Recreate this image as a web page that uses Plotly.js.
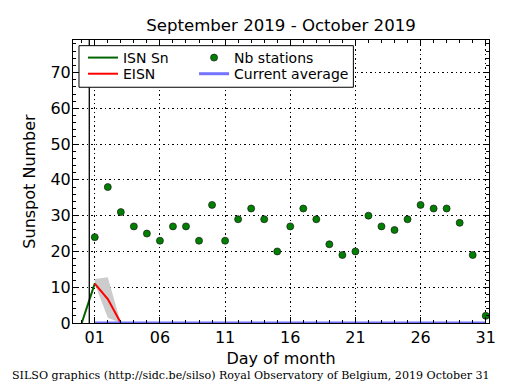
<!DOCTYPE html>
<html><head><meta charset="utf-8">
<script src="https://cdn.plot.ly/plotly-3.0.1.min.js"></script>
<style>html,body{margin:0;padding:0;background:#fff}#chart{width:515px;height:390px}</style>
</head><body><div id="chart"></div>
<script>
// ---- data ----
const days = [1,2,3,4,5,6,7,8,9,10,11,12,13,14,15,16,17,18,19,20,21,22,23,24,25,26,27,28,29,30,31];
const nbStations = [24,38,31,27,25,23,27,27,23,33,23,29,32,29,20,27,32,29,22,19,20,30,27,26,29,33,32,32,28,19,2];
const isnDays = [0, 1];
const isnValues = [0, 11];
const eisnDays = [1, 2, 3];
const eisnValues = [11, 6.7, 0];
const bandDays = [1, 2, 3];
const bandHigh = [12.3, 12.8, 0];
const bandLow = [11, 1.5, 0];
const avgDays = [1, 31];
const avgValues = [0, 0];
const xTickVals = [1, 6, 11, 16, 21, 26, 31];
const xTickText = ['01', '06', '11', '16', '21', '26', '31'];
const markerDay = 0.58;

const F = 'DejaVu Sans, sans-serif';

const traces = [
  {x: bandDays.concat(bandDays.slice().reverse()), y: bandHigh.concat(bandLow.slice().reverse()),
   mode: 'lines', fill: 'toself', fillcolor: '#cccccc', line: {width: 0, color: '#cccccc'},
   showlegend: false, hoverinfo: 'skip'},
  {x: isnDays, y: isnValues, mode: 'lines', name: 'ISN Sn', line: {color: '#006400', width: 2}, legend: 'legend'},
  {x: eisnDays, y: eisnValues, mode: 'lines', name: 'EISN', line: {color: '#ff0000', width: 2}, legend: 'legend2'},
  {x: avgDays, y: avgValues, mode: 'lines', name: 'Current average', line: {color: 'rgba(90,90,255,0.85)', width: 3}, legend: 'legend4'},
  {x: days, y: nbStations, mode: 'markers', name: 'Nb stations',
   marker: {color: '#008000', size: 7, line: {color: '#1a1a1a', width: 0.7}}, legend: 'legend3'}
];

const axisCommon = {
  ticks: 'inside', ticklen: 6, tickwidth: 1, tickcolor: '#000',
  mirror: 'allticks', showline: true, linecolor: '#000', linewidth: 1,
  showgrid: true, gridcolor: '#000', gridwidth: 1, griddash: '1.5px,3px',
  zeroline: false, tickfont: {family: F, size: 16, color: '#000'}
};

const legendBase = {bgcolor: 'rgba(0,0,0,0)', borderwidth: 0, font: {family: F, size: 14, color: '#000'},
  xanchor: 'left', yanchor: 'top', xref: 'paper', yref: 'paper'};

const layout = {
  width: 515, height: 390,
  margin: {l: 73, r: 26, t: 40, b: 67},
  paper_bgcolor: '#fff', plot_bgcolor: '#fff',
  font: {family: F, color: '#000'},
  title: {text: 'September 2019 - October 2019', font: {family: F, size: 16.6, color: '#000', weight: 'normal'},
          x: 0.5, xref: 'paper', xanchor: 'center', y: 0.936, yref: 'container', yanchor: 'middle'},
  xaxis: Object.assign({}, axisCommon, {
    range: [-0.67, 31.25], tickmode: 'array', tickvals: xTickVals, ticktext: xTickText,
    minor: {tickmode: 'linear', tick0: 0, dtick: 1, ticks: 'inside', ticklen: 3, tickcolor: '#000', showgrid: false},
    title: {text: 'Day of month', font: {family: F, size: 16, color: '#000'}, standoff: 6}
  }),
  yaxis: Object.assign({}, axisCommon, {
    range: [0, 79.1], tickmode: 'linear', tick0: 0, dtick: 10, ticklabelstandoff: -2,
    minor: {tickmode: 'linear', tick0: 0, dtick: 2, ticks: 'inside', ticklen: 3, tickcolor: '#000', showgrid: false},
    title: {text: 'Sunspot Number', font: {family: F, size: 16, color: '#000'}, standoff: 10}
  }),
  shapes: [
    {type: 'line', xref: 'x', yref: 'paper', x0: markerDay, x1: markerDay, y0: 0, y1: 1,
     line: {color: '#000', width: 1.3}, layer: 'above'},
    {type: 'rect', xref: 'paper', yref: 'paper', x0: 0.0144, x1: 0.674, y0: 0.833, y1: 0.980,
     fillcolor: '#fff', line: {color: '#000', width: 1}, layer: 'above'}
  ],
  legend: Object.assign({}, legendBase, {x: 0.024, y: 0.993}),
  legend2: Object.assign({}, legendBase, {x: 0.024, y: 0.936}),
  legend3: Object.assign({}, legendBase, {x: 0.291, y: 0.993}),
  legend4: Object.assign({}, legendBase, {x: 0.291, y: 0.936}),
  annotations: [
    {text: 'SILSO graphics (http://sidc.be/silso) Royal Observatory of Belgium, 2019 October 31',
     xref: 'paper', yref: 'paper', x: 0.428, y: -0.184, xanchor: 'center', yanchor: 'middle',
     showarrow: false, font: {family: 'DejaVu Serif, serif', size: 11.1, color: '#000'}}
  ]
};

Plotly.newPlot('chart', traces, layout, {displayModeBar: false, staticPlot: true});
</script>
</body></html>
